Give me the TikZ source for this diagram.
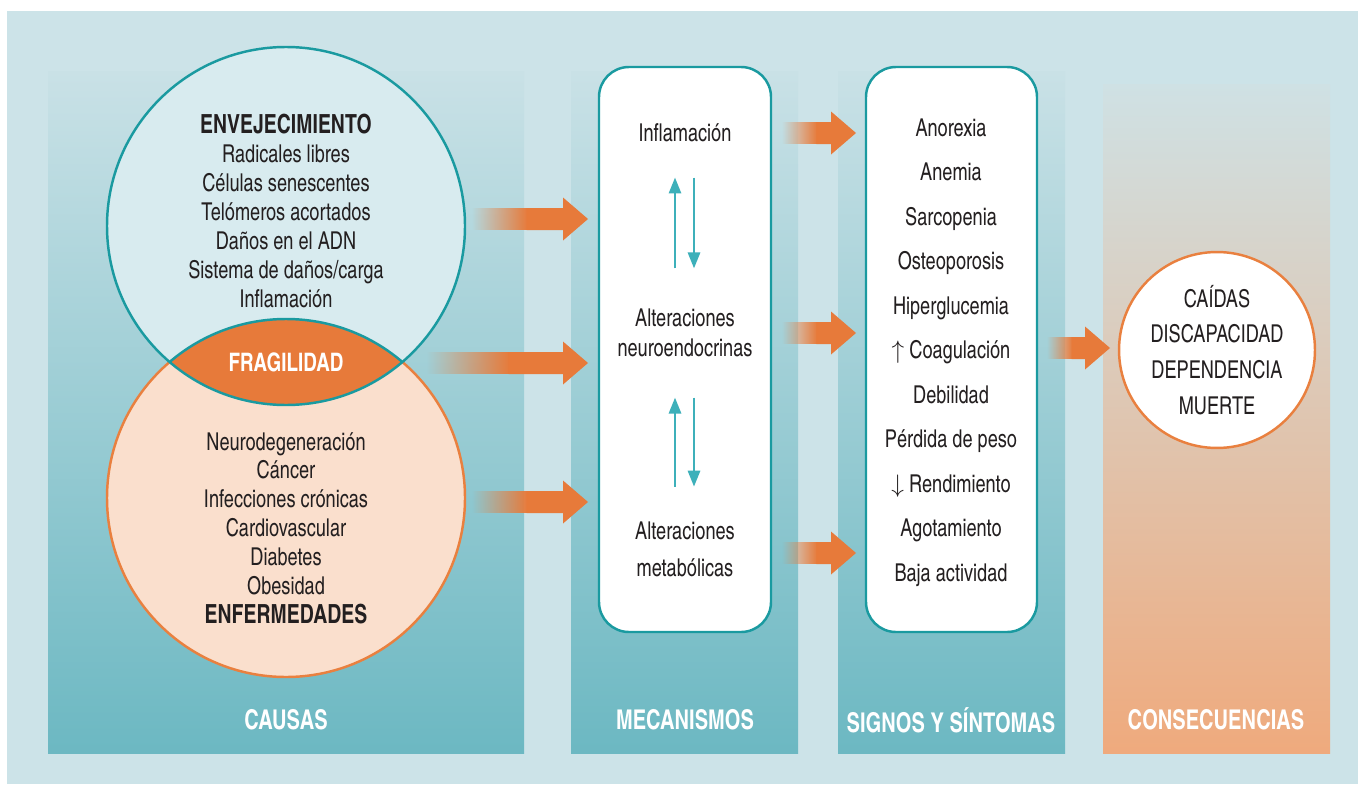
\documentclass[tikz,border=0pt]{standalone}
\usepackage{fontspec}
\setmainfont{texgyreheroscn}[Extension=.otf, UprightFont=*-regular, BoldFont=*-bold, FakeStretch=0.9]
\usepackage{tikz}
\usetikzlibrary{arrows.meta, positioning, calc, fadings}

\definecolor{fondo}{HTML}{CCE3E8}
\definecolor{colsup}{HTML}{C9E1E6}
\definecolor{colinf}{HTML}{6CB8C2}
\definecolor{consup}{HTML}{CFE1E4}
\definecolor{coninf}{HTML}{EFAA7D}
\definecolor{tealosc}{HTML}{1A9AA0}
\definecolor{tealclaro}{HTML}{3DB0BA}
\definecolor{azulcirc}{HTML}{D8EBEF}
\definecolor{melocoton}{HTML}{FADFCD}
\definecolor{naranja}{HTML}{E77A3A}
\definecolor{bordenar}{HTML}{E9803F}
\definecolor{texto}{HTML}{231F20}

\tikzfading[name=fade in right, left color=transparent!100, right color=transparent!0]

% flecha gruesa: cola, punta, fraccion difuminada
\newcommand\flecha[3]{%
  \coordinate (fb) at ($(#2)+(-25,0)$);
  \coordinate (fm) at ($(#1)!#3!(fb)$);
  \fill[naranja, path fading=fade in right] ($(#1)+(0,-11)$) rectangle ($(fm)+(1,11)$);
  \fill[naranja] ($(fm)+(0,-11)$) -- ($(fb)+(0,-11)$) -- ($(fb)+(0,-21.5)$) -- (#2)
    -- ($(fb)+(0,21.5)$) -- ($(fb)+(0,11)$) -- ($(fm)+(0,11)$) -- cycle;
}

\begin{document}
\begin{tikzpicture}[
    x=0.02cm, y=-0.02cm,
    txt/.style={font=\fontsize{14}{16.44}\selectfont, text=texto, align=center, inner sep=0pt},
    titulo/.style={font=\bfseries\fontsize{15.5}{18}\selectfont, text=white, inner sep=0pt},
    caja/.style={draw=tealosc, line width=1.4pt, fill=white, rounded corners=0.6cm},
    columna/.style={top color=colsup, bottom color=colinf},
    flt/.style={-{Triangle[length=9pt,width=7pt]}, draw=tealclaro, line width=1.1pt}
    ]
    \useasboundingbox (0,0) rectangle (1358,784);
    \fill[white] (0,0) rectangle (1358,784);
    \fill[fondo] (7,11) rectangle (1358,784);

    % columnas
    \shade[columna] (48,72) rectangle (524,753);
    \shade[columna] (571,72) rectangle (798,753);
    \shade[columna] (838,72) rectangle (1065,753);
    \shade[top color=consup, bottom color=coninf] (1103,85) rectangle (1330,753);

    \node[titulo] (causas) at (286,720) {CAUSAS};
    \node[titulo] (mec) at (685,720) {MECANISMOS};
    \node[titulo] (sig) at (951,720) {SIGNOS Y SÍNTOMAS};
    \node[titulo] (cons) at (1216,720) {CONSECUENCIAS};

    % circulos de causas
    \fill[melocoton, draw=bordenar, line width=1.4pt] (286,498) circle[radius=179];
    \fill[azulcirc] (286,226) circle[radius=179];
    \begin{scope}
      \clip (286,226) circle[radius=179];
      \fill[naranja] (286,498) circle[radius=179];
      \draw[tealosc, line width=1.4pt] (286,498) circle[radius=179];
    \end{scope}
    \draw[tealosc, line width=1.4pt] (286,226) circle[radius=179];

    \node[txt] (env) at (286,211) {{\bfseries\fontsize{15}{16.44}\selectfont ENVEJECIMIENTO}\\
      Radicales libres\\Células senescentes\\Telómeros acortados\\Daños en el ADN\\
      Sistema de daños/carga\\Inflamación};
    \node[titulo, font=\bfseries\fontsize{14.5}{17}\selectfont] (frag) at (286,362) {FRAGILIDAD};
    \node[txt] (enf) at (286,528) {Neurodegeneración\\Cáncer\\Infecciones crónicas\\
      Cardiovascular\\Diabetes\\Obesidad\\{\bfseries\fontsize{15}{16.44}\selectfont ENFERMEDADES}};

    % cajas
    \draw[caja] (599,67) rectangle (771,632);
    \draw[caja] (866,67) rectangle (1037,632);

    \node[txt] (infl) at (685,133) {Inflamación};
    \node[txt, font=\fontsize{14}{17}\selectfont] (neuro) at (685,333) {Alteraciones\\neuroendocrinas};
    \node[txt, font=\fontsize{14}{21}\selectfont] (metab) at (685,549.5) {Alteraciones\\metabólicas};

    \node[txt, font=\fontsize{14}{25.3}\selectfont] (sint) at (951,352.5) {Anorexia\\Anemia\\Sarcopenia\\
      Osteoporosis\\Hiperglucemia\\$\uparrow$ Coagulación\\Debilidad\\Pérdida de peso\\
      $\downarrow$ Rendimiento\\Agotamiento\\Baja actividad};

    \node[circle, draw=bordenar, line width=1.4pt, fill=white, minimum size=3.92cm,
      txt, font=\fontsize{14}{20.4}\selectfont] (consc) at (1217,350)
      {CAÍDAS\\DISCAPACIDAD\\DEPENDENCIA\\MUERTE};

    % flechas entre mecanismos
    \coordinate (cu) at (675,0);
    \coordinate (cd) at (694,0);
    \draw[flt, shorten <=23pt, shorten >=20pt] (neuro.north -| cu) -- (infl.south -| cu);
    \draw[flt, shorten <=20pt, shorten >=23pt] (infl.south -| cd) -- (neuro.north -| cd);
    \draw[flt, shorten <=20pt, shorten >=23pt] (metab.north -| cu) -- (neuro.south -| cu);
    \draw[flt, shorten <=23pt, shorten >=20pt] (neuro.south -| cd) -- (metab.north -| cd);

    % flechas gruesas
    \coordinate (t1) at (472,219);  \coordinate (p1) at (588,219);
    \coordinate (t2) at (427,363);  \coordinate (p2) at (588,363);
    \coordinate (t3) at (472,502);  \coordinate (p3) at (588,502);
    \coordinate (t4) at (782,133);  \coordinate (p4) at (856,133);
    \coordinate (t5) at (782,333);  \coordinate (p5) at (856,333);
    \coordinate (t6) at (782,553);  \coordinate (p6) at (856,553);
    \coordinate (t7) at (1047,348); \coordinate (p7) at (1110,348);
    \flecha{t1}{p1}{0.6}
    \flecha{t2}{p2}{0.6}
    \flecha{t3}{p3}{0.6}
    \flecha{t4}{p4}{0.7}
    \flecha{t5}{p5}{0.7}
    \flecha{t6}{p6}{0.7}
    \flecha{t7}{p7}{0.65}
\end{tikzpicture}
\end{document}
